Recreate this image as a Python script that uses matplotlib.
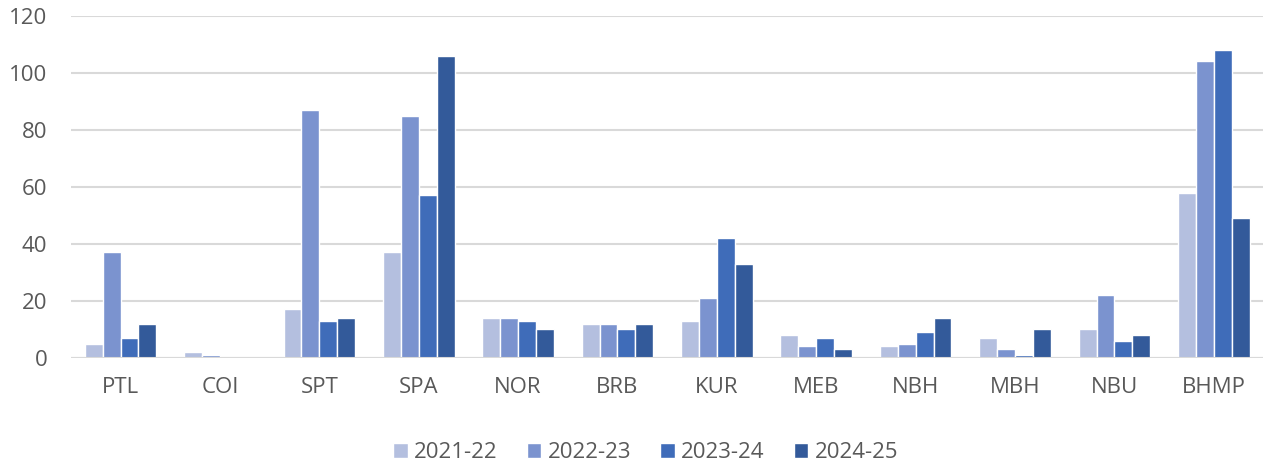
import numpy as np
import matplotlib.pyplot as plt

categories = ["PTL", "COI", "SPT", "SPA", "NOR", "BRB", "KUR", "MEB", "NBH", "MBH", "NBU", "BHMP"]
series_names = ["2021-22", "2022-23", "2023-24", "2024-25"]
v2122 = [5, 2, 17, 37, 14, 12, 13, 8, 4, 7, 10, 58]
v2223 = [37, 1, 87, 85, 14, 12, 21, 4, 5, 3, 22, 104]
v2324 = [7, 0, 13, 57, 13, 10, 42, 7, 9, 1, 6, 108]
v2425 = [12, 0, 14, 106, 10, 12, 33, 3, 14, 10, 8, 49]
colors = ["#B4BFDF", "#7B93CF", "#3F6CB9", "#335A9A"]

plt.rcParams["font.family"] = ["Open Sans", "DejaVu Sans"]

fig = plt.figure(figsize=(12.66, 4.66), dpi=100)
ax = fig.add_axes([0.056, 0.232, 0.942, 0.734])

x = np.arange(len(categories))
w = 0.18
for i, (vals, name, c) in enumerate(zip([v2122, v2223, v2324, v2425], series_names, colors)):
    ax.bar(x + (i - 1.5) * w, vals, w, color=c, edgecolor="white", linewidth=1,
           label=name, zorder=3)

ax.set_xlim(-0.5, len(categories) - 0.5)
ax.set_ylim(0, 120)
ax.set_yticks(range(0, 121, 20))
ax.set_xticks(x)
ax.set_xticklabels(categories)
ax.grid(axis="y", color="#D9D9D9", linewidth=1.5, zorder=0)
ax.tick_params(length=0, labelsize=16, colors="#595959")
ax.tick_params(axis="x", pad=14)
ax.tick_params(axis="y", pad=17)
for s in ax.spines.values():
    s.set_visible(False)
ax.axhline(0, color="#D9D9D9", linewidth=1.5, zorder=4)

ax.legend(loc="upper center", bbox_to_anchor=(0.482, -0.207), ncol=4, frameon=False,
          fontsize=16, labelcolor="#595959", handlelength=0.65, handleheight=0.65,
          handletextpad=0.3, columnspacing=1.3, borderaxespad=0.2)

fig.savefig("out.png", dpi=100)
